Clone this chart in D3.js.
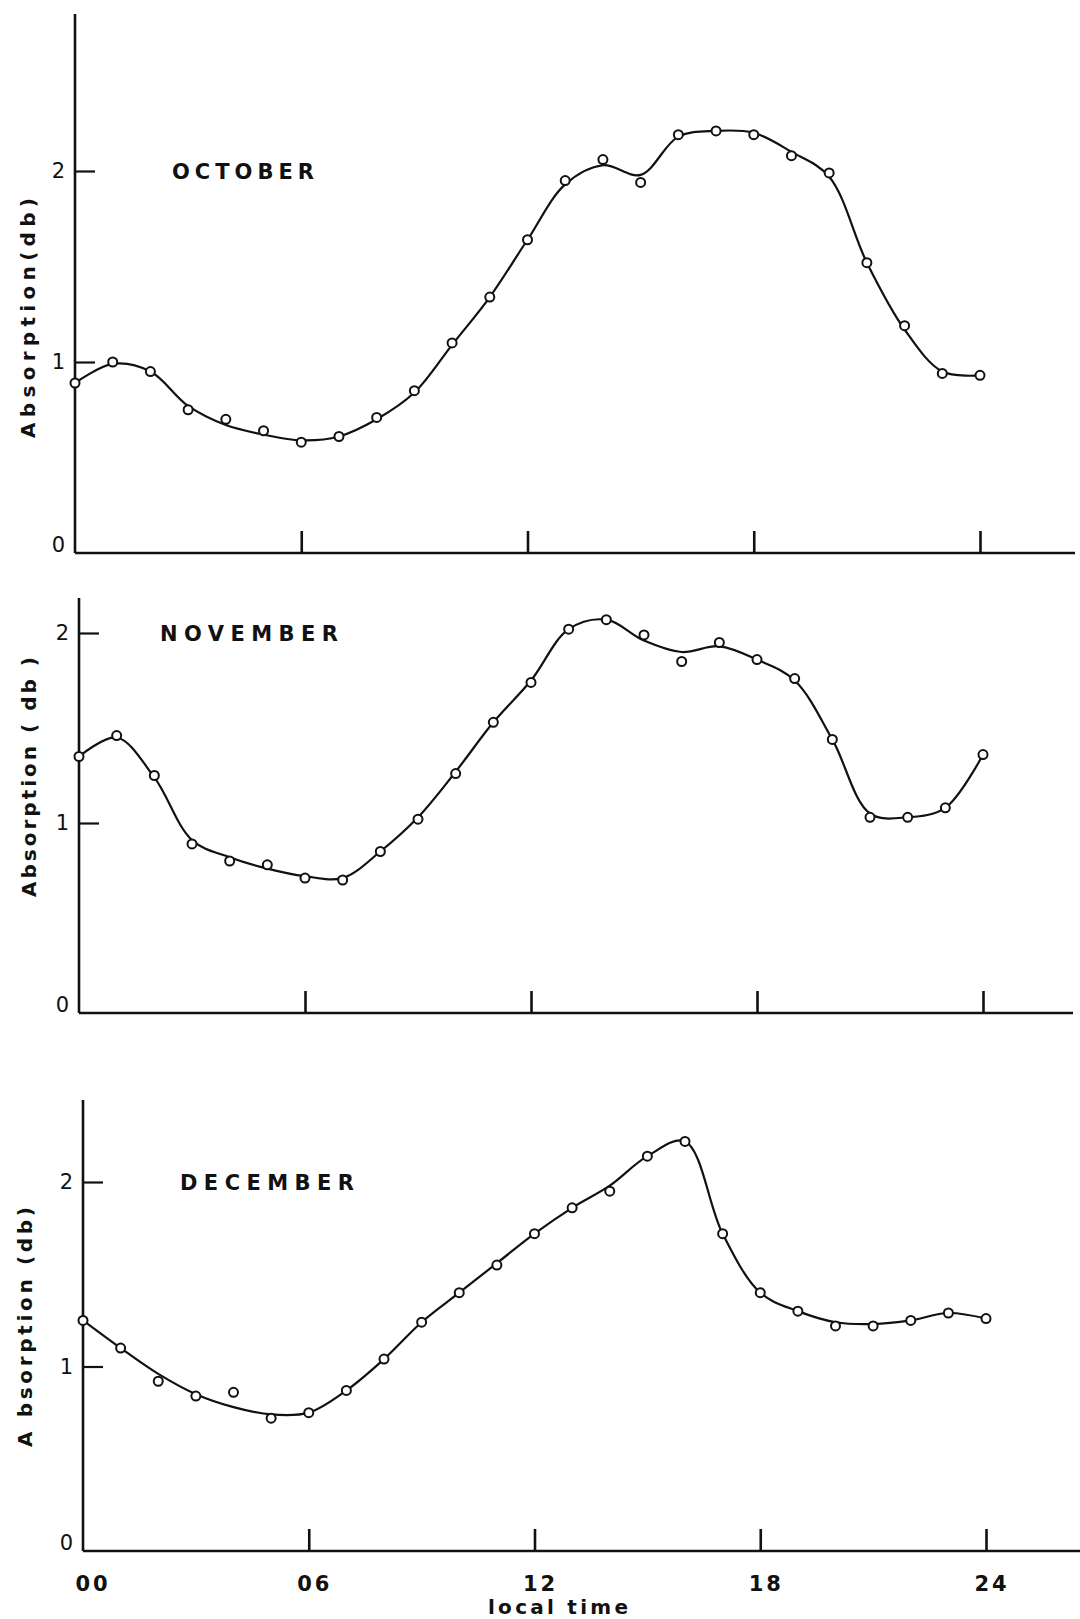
<!DOCTYPE html>
<html>
<head>
<meta charset="utf-8">
<script src="https://cdn.jsdelivr.net/npm/d3@7"></script>
<style>
  body { margin: 0; background: #fff; }
  svg { display: block; }
  text { font-family: "DejaVu Sans", sans-serif; fill: #111; }
</style>
</head>
<body>
<svg id="chart" width="1080" height="1619"></svg>
<script>
// local time (hours) of each reading
const hours = [0, 1, 2, 3, 4, 5, 6, 7, 8, 9, 10, 11, 12, 13, 14, 15, 16, 17, 18, 19, 20, 21, 22, 23, 24];

// absorption in db, the plotted circles
const october  = [0.89, 1.00, 0.95, 0.75, 0.70, 0.64, 0.58, 0.61, 0.71, 0.85, 1.10, 1.34, 1.64,
                  1.95, 2.06, 1.94, 2.19, 2.21, 2.19, 2.08, 1.99, 1.52, 1.19, 0.94, 0.93];
const november = [1.35, 1.46, 1.25, 0.89, 0.80, 0.78, 0.71, 0.70, 0.85, 1.02, 1.26, 1.53, 1.74,
                  2.02, 2.07, 1.99, 1.85, 1.95, 1.86, 1.76, 1.44, 1.03, 1.03, 1.08, 1.36];
const december = [1.25, 1.10, 0.92, 0.84, 0.86, 0.72, 0.75, 0.87, 1.04, 1.24, 1.40, 1.55, 1.72,
                  1.86, 1.95, 2.14, 2.22, 1.72, 1.40, 1.30, 1.22, 1.22, 1.25, 1.29, 1.26];

// the hand drawn smooth curve, read at each hour (it misses a few circles)
const octoberCurve  = [0.89, 0.99, 0.95, 0.77, 0.67, 0.62, 0.59, 0.61, 0.70, 0.84, 1.09, 1.34, 1.64,
                       1.93, 2.03, 1.98, 2.18, 2.21, 2.20, 2.10, 1.97, 1.52, 1.17, 0.95, 0.93];
const novemberCurve = [1.35, 1.45, 1.24, 0.91, 0.82, 0.76, 0.72, 0.71, 0.85, 1.03, 1.27, 1.53, 1.75,
                       2.02, 2.07, 1.96, 1.90, 1.93, 1.86, 1.75, 1.44, 1.05, 1.03, 1.08, 1.36];
const decemberCurve = [1.25, 1.10, 0.96, 0.85, 0.78, 0.74, 0.75, 0.87, 1.04, 1.24, 1.40, 1.56, 1.72,
                       1.86, 1.98, 2.14, 2.22, 1.72, 1.40, 1.30, 1.24, 1.23, 1.25, 1.29, 1.26];

const months = ["OCTOBER", "NOVEMBER", "DECEMBER"];
const yTicks = [0, 1, 2];
const xTicks = [6, 12, 18, 24];
const xTickLabels = ["00", "06", "12", "18", "24"];
const xTickLabelHours = [0, 6, 12, 18, 24];
const yTitles = ["Absorption(db)", "Absorption ( db )", "A bsorption (db)"];
const xTitle = "local time";

const svg = d3.select("#chart");

// where each panel sits on the page
const panels = [
  { name: months[0], values: october, curve: octoberCurve, yTitle: yTitles[0],
    x0: 75, x24: 980, base: 553, y2: 171, top: 14, right: 1075,
    labelX: 172, labelLen: 142, titleY: 318, titleX: 28 },
  { name: months[1], values: november, curve: novemberCurve, yTitle: yTitles[1],
    x0: 79, x24: 983, base: 1013, y2: 633, top: 598, right: 1073,
    labelX: 160, labelLen: 178, titleY: 777, titleX: 29 },
  { name: months[2], values: december, curve: decemberCurve, yTitle: yTitles[2],
    x0: 83, x24: 986, base: 1551, y2: 1182, top: 1100, right: 1080,
    labelX: 180, labelLen: 174, titleY: 1327, titleX: 25, bottom: true }
];

panels.forEach(p => {
  const x = d3.scaleLinear().domain([0, 24]).range([p.x0, p.x24]);
  const y = d3.scaleLinear().domain([0, 2]).range([p.base, p.y2]);
  const g = svg.append("g");

  // axis lines
  g.append("line")
    .attr("x1", p.x0).attr("x2", p.x0)
    .attr("y1", p.top).attr("y2", p.base)
    .attr("stroke", "#111").attr("stroke-width", 2.6);
  g.append("line")
    .attr("x1", p.x0).attr("x2", p.right)
    .attr("y1", p.base).attr("y2", p.base)
    .attr("stroke", "#111").attr("stroke-width", 2.6);

  // y axis: short ticks pointing into the plot
  const yAxis = d3.axisLeft(y)
    .tickValues(yTicks)
    .tickFormat(d => d)
    .tickSizeInner(-20)
    .tickSizeOuter(0)
    .tickPadding(10);
  const ya = g.append("g")
    .attr("transform", `translate(${p.x0},0)`)
    .call(yAxis);
  ya.select(".domain").remove();
  ya.selectAll(".tick line").attr("stroke", "#111").attr("stroke-width", 2.2)
    .filter(d => d === 0).remove();
  ya.selectAll(".tick text")
    .attr("font-size", 21)
    .attr("font-family", "DejaVu Sans, sans-serif")
    .attr("dy", d => d === 0 ? "-0.05em" : "0.32em");

  // x axis: upward ticks at 6 h steps
  const xAxis = d3.axisBottom(x)
    .tickValues(xTicks)
    .tickFormat("")
    .tickSizeInner(-22)
    .tickSizeOuter(0);
  const xa = g.append("g")
    .attr("transform", `translate(0,${p.base})`)
    .call(xAxis);
  xa.select(".domain").remove();
  xa.selectAll(".tick line").attr("stroke", "#111").attr("stroke-width", 2.6);

  if (p.bottom) {
    g.selectAll(".xlab")
      .data(xTickLabelHours)
      .join("text")
      .attr("class", "xlab")
      .attr("x", (d, i) => x(d) + (i === 0 ? 10 : 6))
      .attr("y", p.base + 40)
      .attr("text-anchor", "middle")
      .attr("font-size", 21)
      .attr("font-weight", "bold")
      .attr("letter-spacing", 3)
      .text((d, i) => xTickLabels[i]);
    g.append("text")
      .attr("x", 488).attr("y", p.base + 63)
      .attr("font-size", 20).attr("font-weight", "bold")
      .attr("textLength", 140).attr("lengthAdjust", "spacing")
      .text(xTitle);
  }

  // y title
  g.append("text")
    .attr("transform", `translate(${p.titleX + 7},${p.titleY}) rotate(-90)`)
    .attr("text-anchor", "middle")
    .attr("font-size", 20).attr("font-weight", "bold")
    .attr("textLength", 240).attr("lengthAdjust", "spacing")
    .text(p.yTitle);

  // month label
  g.append("text")
    .attr("x", p.labelX).attr("y", y(2) + 8)
    .attr("font-size", 21)
    .attr("font-weight", 600)
    .attr("textLength", p.labelLen).attr("lengthAdjust", "spacing")
    .text(p.name);

  // smoothed curve through the hourly readings of the drawn line
  const line = d3.line()
    .x((d, i) => x(hours[i]))
    .y(d => y(d))
    .curve(d3.curveCatmullRom.alpha(0.5));
  g.append("path")
    .datum(p.curve)
    .attr("d", line)
    .attr("fill", "none")
    .attr("stroke", "#111")
    .attr("stroke-width", 2.2);

  g.selectAll("circle")
    .data(p.values)
    .join("circle")
    .attr("cx", (d, i) => x(hours[i]))
    .attr("cy", d => y(d))
    .attr("r", 4.5)
    .attr("fill", "#fff")
    .attr("stroke", "#111")
    .attr("stroke-width", 2);
});
</script>
</body>
</html>
